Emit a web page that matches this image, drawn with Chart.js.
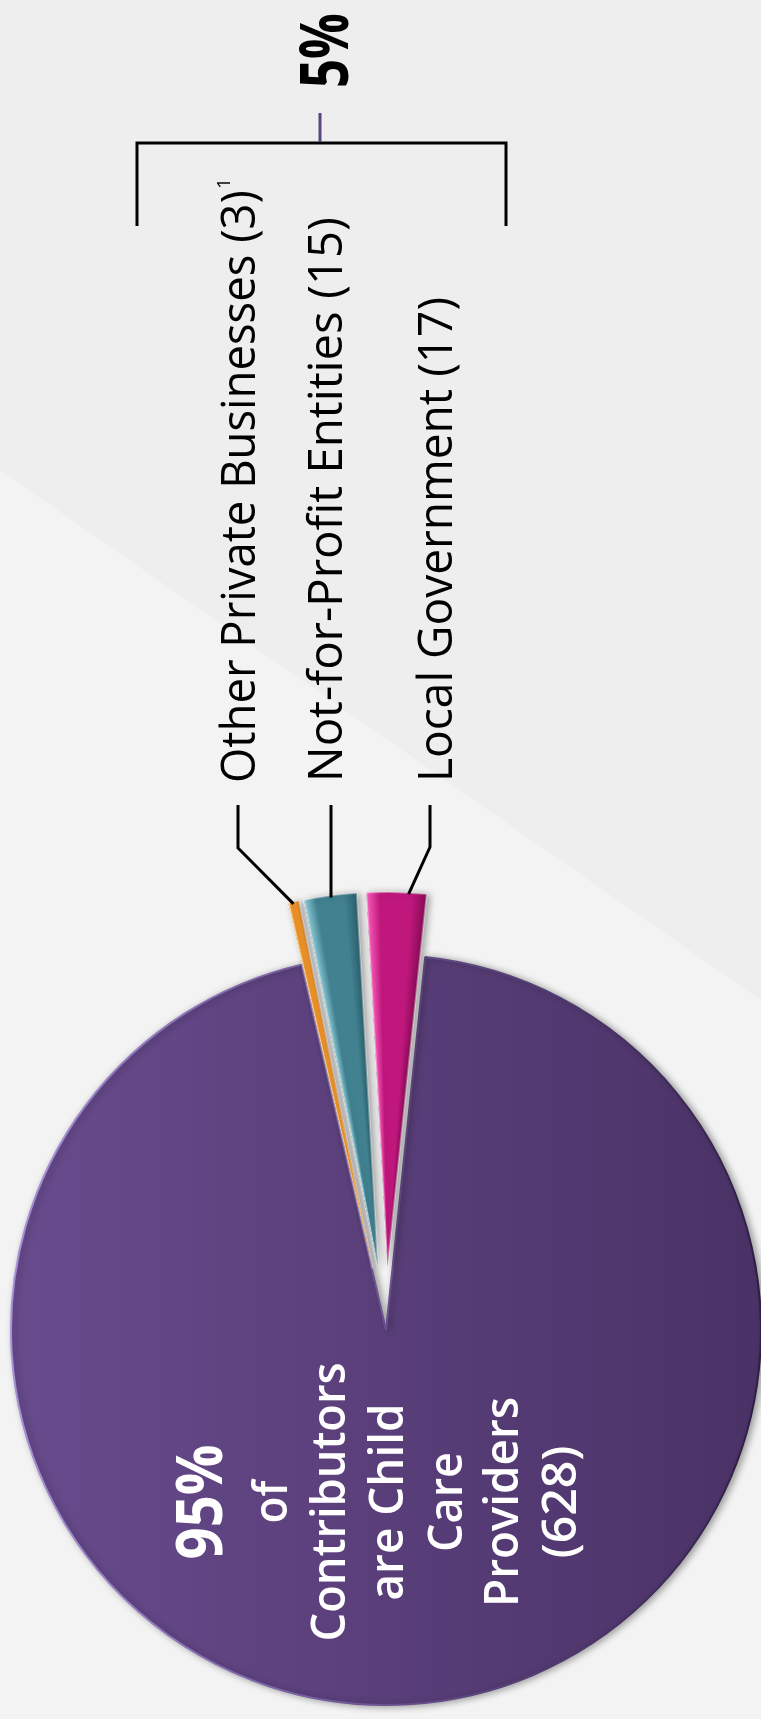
<!DOCTYPE html>
<html><head><meta charset="utf-8">
<script src="https://cdn.jsdelivr.net/npm/chart.js@4.4.1/dist/chart.umd.min.js"></script>
<style>
html,body{margin:0;padding:0;background:#efefef;}
#wrap{position:relative;width:761px;height:1719px;}
</style></head><body>
<div id="wrap"><canvas id="c"></canvas></div>
<script>
// ---------- data ----------
const categories = ['Child Care Providers', 'Other Private Businesses', 'Not-for-Profit Entities', 'Local Government'];
const counts = [628, 3, 15, 17];
const exploded = [false, true, true, true];
const calloutNames = ['Other Private Businesses', 'Not-for-Profit Entities', 'Local Government'];
const calloutNote = '1';
const mainLabelWords = ['of', 'Contributors', 'are Child', 'Care', 'Providers'];

// ---------- style / layout ----------
const ROTATION = 6;      // degrees
const EXPLODE = 63;      // px
const RADIUS = 375;      // px
const sliceColors = [
  null,
  {light:'#ffc468', base:'#ee9228', dark:'#b76712'},
  {light:'#8fcfdb', base:'#418190', dark:'#2b5f6c'},
  {light:'#ff5cbc', base:'#c0177d', dark:'#880c56'}
];

const total = counts.reduce((a,b)=>a+b,0);
const pct = v => Math.round(v/total*100) + '%';

function sliceGeom(chart, i){
  const ca = chart.chartArea;
  let start = -Math.PI/2 + ROTATION*Math.PI/180;
  for(let k=0;k<i;k++) start += counts[k]/total*2*Math.PI;
  const sweep = counts[i]/total*2*Math.PI;
  let cx = (ca.left+ca.right)/2, cy = (ca.top+ca.bottom)/2;
  if(exploded[i]){ const m = start+sweep/2; cx += Math.cos(m)*EXPLODE; cy += Math.sin(m)*EXPLODE; }
  return {start, sweep, cx, cy};
}

function sliceFill(c){
  const chart = c.chart, i = c.dataIndex, ctx = chart.ctx;
  if(!chart.chartArea || i===undefined) return '#5a4079';
  const g = sliceGeom(chart, i);
  if(i===0){
    const lg = ctx.createLinearGradient(g.cx-RADIUS,0,g.cx+RADIUS,0);
    lg.addColorStop(0,'#684b8d');
    lg.addColorStop(1,'#4a3266');
    return lg;
  }
  const col = sliceColors[i];
  if(!ctx.createConicGradient) return col.base;
  const cg = ctx.createConicGradient(g.start, g.cx, g.cy);
  const f = g.sweep/(2*Math.PI);
  cg.addColorStop(0, col.light);
  cg.addColorStop(f*0.22, col.base);
  cg.addColorStop(f*0.75, col.base);
  cg.addColorStop(f, col.dark);
  cg.addColorStop(1, col.dark);
  return cg;
}
function sliceBorder(c){
  const chart = c.chart, i = c.dataIndex, ctx = chart.ctx;
  if(!chart.chartArea || i===undefined) return '#8a70b0';
  const g = sliceGeom(chart, i);
  if(i===0){
    const lg = ctx.createLinearGradient(g.cx-RADIUS,0,g.cx+RADIUS,0);
    lg.addColorStop(0,'#a690d8');
    lg.addColorStop(0.5,'#6a5290');
    lg.addColorStop(1,'#2e1e44');
    return lg;
  }
  return 'rgba(255,255,255,0.35)';
}

// ---------- plugins ----------
const bgPlugin = {
  id:'bg',
  beforeDraw(chart){
    const ctx = chart.ctx, W = chart.width, H = chart.height;
    ctx.save();
    ctx.fillStyle = '#eeeeee';
    ctx.fillRect(0,0,W,H);
    ctx.fillStyle = '#f3f3f3';
    ctx.beginPath();
    ctx.moveTo(0,470); ctx.lineTo(W,1000); ctx.lineTo(W,H); ctx.lineTo(0,H); ctx.closePath();
    ctx.fill();
    ctx.restore();
  }
};
const explodePlugin = {
  id:'explode',
  afterDatasetsUpdate(chart){
    const meta = chart.getDatasetMeta(0);
    meta.data.forEach((arc,i)=>{
      if(!exploded[i]) return;
      const m = (arc.startAngle+arc.endAngle)/2;
      arc.x += Math.cos(m)*EXPLODE;
      arc.y += Math.sin(m)*EXPLODE;
    });
  }
};
const shadowPlugin = {
  id:'shadow',
  beforeDatasetsDraw(chart){
    const ctx = chart.ctx;
    ctx.save();
    ctx.shadowColor = 'rgba(0,0,0,0.35)';
    ctx.shadowBlur = 7;
    ctx.shadowOffsetX = 3;
    ctx.shadowOffsetY = 1;
  },
  afterDatasetsDraw(chart){ chart.ctx.restore(); }
};

function vText(ctx, text, xBase, y, len, font, color, align){
  ctx.save();
  ctx.font = font; ctx.fillStyle = color;
  ctx.textBaseline = 'alphabetic';
  ctx.textAlign = align;
  const w = ctx.measureText(text).width;
  ctx.translate(xBase, y);
  ctx.rotate(-Math.PI/2);
  ctx.scale(len/w, 1);
  ctx.fillText(text, 0, 0);
  ctx.restore();
}
function line(ctx, pts, color, w){
  ctx.save();
  ctx.strokeStyle = color; ctx.lineWidth = w; ctx.lineJoin = 'miter'; ctx.lineCap = 'butt';
  ctx.beginPath();
  ctx.moveTo(pts[0][0], pts[0][1]);
  for(let k=1;k<pts.length;k++) ctx.lineTo(pts[k][0], pts[k][1]);
  ctx.stroke();
  ctx.restore();
}

const annotPlugin = {
  id:'annot',
  afterDraw(chart){
    const ctx = chart.ctx;
    const meta = chart.getDatasetMeta(0);
    // leader line end points at the outer edge of exploded slices
    const tip = i => { const a = meta.data[i]; const m=(a.startAngle+a.endAngle)/2; return [a.x+Math.cos(m)*a.outerRadius, a.y+Math.sin(m)*a.outerRadius]; };
    const t1 = tip(1), t2 = tip(2), t3 = tip(3);
    line(ctx, [[238,805],[238,848],[t1[0],t1[1]+2]], '#000', 3);
    line(ctx, [[331,805],[331,t2[1]+2]], '#000', 3);
    line(ctx, [[430,805],[430,847],[t3[0]+12,t3[1]+2]], '#000', 3);

    // bracket
    line(ctx, [[137,226],[137,143],[506,143],[506,226]], '#000', 3);
    line(ctx, [[320,113],[320,142]], '#5b4680', 3);

    // callout labels
    const f = '400 48px "Open Sans"';
    vText(ctx, calloutNames[0]+' ('+counts[1]+')', 255, 783, 593, f, '#000', 'left');
    vText(ctx, calloutNote, 230, 189, 11, '400 19px "Open Sans"', '#000', 'left');
    vText(ctx, calloutNames[1]+' ('+counts[2]+')', 342, 782, 565, f, '#000', 'left');
    vText(ctx, calloutNames[2]+' ('+counts[3]+')', 452, 782, 485, f, '#000', 'left');

    // group percentage
    const others = total - counts[0];
    vText(ctx, pct(others), 348, 88, 75, '700 66px "Open Sans"', '#000', 'left');

    // main slice label
    const cy = 1502, w = '#ffffff', fm = '600 47px "Open Sans"';
    vText(ctx, pct(counts[0]), 222, cy, 115, '700 64px "Open Sans"', w, 'center');
    vText(ctx, mainLabelWords[0], 287, cy, 43, fm, w, 'center');
    vText(ctx, mainLabelWords[1], 345, cy, 279, fm, w, 'center');
    vText(ctx, mainLabelWords[2], 403, cy, 197, fm, w, 'center');
    vText(ctx, mainLabelWords[3], 462, cy, 100, fm, w, 'center');
    vText(ctx, mainLabelWords[4], 518, cy, 210, fm, w, 'center');
    vText(ctx, '(' + counts[0] + ')', 576, cy, 113, fm, w, 'center');
  }
};

new Chart(document.getElementById('c'), {
  type:'pie',
  data:{
    labels: categories,
    datasets:[{
      data: counts,
      backgroundColor: sliceFill,
      borderColor: sliceBorder,
      borderWidth: 2,
      hoverOffset: 0
    }]
  },
  options:{
    responsive:true,
    maintainAspectRatio:false,
    animation:false,
    events:[],
    rotation: ROTATION,
    radius: RADIUS,
    layout:{padding:{left:11,right:0,top:941,bottom:0}},
    plugins:{legend:{display:false}, tooltip:{enabled:false}}
  },
  plugins:[bgPlugin, explodePlugin, shadowPlugin, annotPlugin]
});
</script>
</body></html>
